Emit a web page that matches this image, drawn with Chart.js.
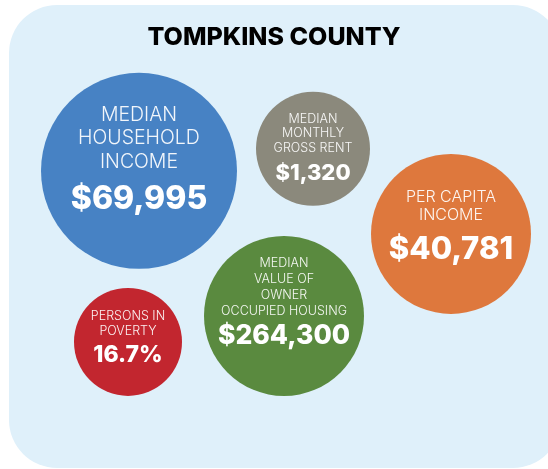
<!DOCTYPE html>
<html lang="en">
<head>
<meta charset="UTF-8">
<title>Tompkins County</title>
<script src="https://cdn.jsdelivr.net/npm/chart.js@4"></script>
<style>
    body { margin: 0; background: #fff; }
    canvas { display: block; }
</style>
</head>
<body>
<canvas id="myChart" width="548" height="469"></canvas>
<script>
    // données
    const titre = 'TOMPKINS COUNTY';
    const categories = [
        ['MEDIAN', 'HOUSEHOLD', 'INCOME'],
        ['MEDIAN', 'MONTHLY', 'GROSS RENT'],
        ['PER CAPITA', 'INCOME'],
        ['MEDIAN', 'VALUE OF', 'OWNER', 'OCCUPIED HOUSING'],
        ['PERSONS IN', 'POVERTY']
    ];
    const values = [69995, 1320, 40781, 264300, 16.7];
    const units = ['$', '$', '$', '$', '%'];

    // mise en page des bulles (pixels de l'image)
    const posX = [139, 313, 451, 284, 128];
    const posY = [171, 149, 234, 316, 342];
    const rayons = [98, 57, 80, 80, 54];
    const couleurs = ['#4782c4', '#8b897c', '#de783d', '#5a8a3f', '#c2262f'];
    const tailleLabel = [19.5, 12.5, 16, 12.5, 12.5];
    const tailleValeur = [32, 22, 31, 26.5, 23];
    const interligne = [23.5, 14.5, 18, 16, 15];
    const debutY = [-56, -30, -37, -53, -26];
    const valeurY = [29, 25, 16, 20, 13];

    const formatValeur = (v, u) => u === '%' ? v.toFixed(1) + '%' : '$' + v.toLocaleString('en-US');

    const fondPanneau = {
        id: 'fondPanneau',
        beforeDraw(chart) {
            const ctx = chart.ctx;
            ctx.save();
            ctx.fillStyle = '#dff0fa';
            ctx.beginPath();
            ctx.roundRect(9, 5, 552, 463, 48);
            ctx.fill();
            ctx.restore();
        }
    };

    const texteBulles = {
        id: 'texteBulles',
        afterDatasetsDraw(chart) {
            const ctx = chart.ctx;
            const meta = chart.getDatasetMeta(0);
            ctx.save();
            ctx.textAlign = 'center';
            ctx.textBaseline = 'middle';
            meta.data.forEach((pt, i) => {
                const {x, y} = pt.getProps(['x', 'y'], true);
                ctx.fillStyle = 'rgba(255,255,255,0.93)';
                ctx.font = '300 ' + tailleLabel[i] + 'px Inter';
                categories[i].forEach((ligne, j) => {
                    ctx.fillText(ligne, x, y + debutY[i] + j * interligne[i]);
                });
                ctx.fillStyle = '#ffffff';
                ctx.font = '800 ' + tailleValeur[i] + 'px Inter';
                ctx.fillText(formatValeur(values[i], units[i]), x, y + valeurY[i]);
            });
            ctx.restore();
        }
    };

    function buildChart() {
        let content = document.querySelector('#myChart').getContext('2d');
        return new Chart(content, {
            type: 'bubble',
            data: {
                labels: categories.map(c => c.join(' ')),
                datasets: [{
                    data: values.map((v, i) => ({x: posX[i], y: posY[i], r: rayons[i]})),
                    backgroundColor: couleurs,
                    hoverBackgroundColor: couleurs,
                    borderWidth: 0,
                    hoverBorderWidth: 0,
                    hoverRadius: 0,
                    clip: false
                }]
            },
            options: {
                responsive: false,
                animation: false,
                events: [],
                layout: { padding: 0, autoPadding: false },
                scales: {
                    x: { display: false, min: 0, max: 548 },
                    y: { display: false, min: 62.2, max: 469, reverse: true }
                },
                plugins: {
                    legend: { display: false },
                    tooltip: { enabled: false },
                    title: {
                        display: true,
                        text: titre,
                        color: '#000',
                        font: { family: 'Inter', size: 25, weight: '800', lineHeight: 1.2 },
                        padding: { top: 22, bottom: 10 }
                    }
                }
            },
            plugins: [fondPanneau, texteBulles]
        });
    }

    buildChart();
</script>
</body>
</html>
